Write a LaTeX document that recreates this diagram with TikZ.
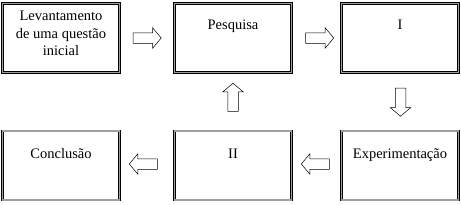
\documentclass[tikz,border=0pt]{standalone}
\usepackage{fontspec}
\setmainfont{Liberation Serif}
\usetikzlibrary{shapes.arrows}
\begin{document}
\begin{tikzpicture}[x=1pt,y=-1pt,
  boxstyle/.style={draw=black, double=gray!75, double distance=1.1pt, line width=0.6pt, minimum width=117pt, minimum height=69pt, inner sep=0pt},
  txt/.style={font=\fontsize{14.5}{17.3}\selectfont, align=center, anchor=base, inner sep=0pt},
  blockarrow/.style={draw=black, line width=0.5pt, fill=white, single arrow, minimum height=28pt, inner xsep=0pt, inner ysep=5pt, text height=0pt, text depth=0pt, single arrow head extend=5pt, single arrow tip angle=100}
]
\useasboundingbox (0,0) rectangle (461,204);
\node[boxstyle] (b1) at (61,38) {};
\node[boxstyle] (b2) at (233,38) {};
\node[boxstyle] (b3) at (400,38) {};
\node[boxstyle] (b4) at (61,165.5) {};
\node[boxstyle] (b5) at (233,165.5) {};
\node[boxstyle] (b6) at (400,165.5) {};
\node[txt] (t1) at (61,55.3) {Levantamento\\de uma questão\\inicial};
\node[txt] (t2) at (233,29) {Pesquisa};
\node[txt] (t3) at (400,29) {I};
\node[txt] (t4) at (61,158.5) {Conclusão};
\node[txt] (t5) at (233,158.5) {II};
\node[txt] (t6) at (400,158.5) {Experimentação};
\node[blockarrow] (a1) at (145,38) {};
\node[blockarrow] (a2) at (317.5,38) {};
\node[blockarrow, rotate=-90] (a3) at (400.5,100) {};
\node[blockarrow, rotate=180] (a4) at (317.5,164) {};
\node[blockarrow, rotate=180] (a5) at (145.5,164) {};
\node[blockarrow, rotate=90] (a6) at (233,99.5) {};
\end{tikzpicture}
\end{document}
